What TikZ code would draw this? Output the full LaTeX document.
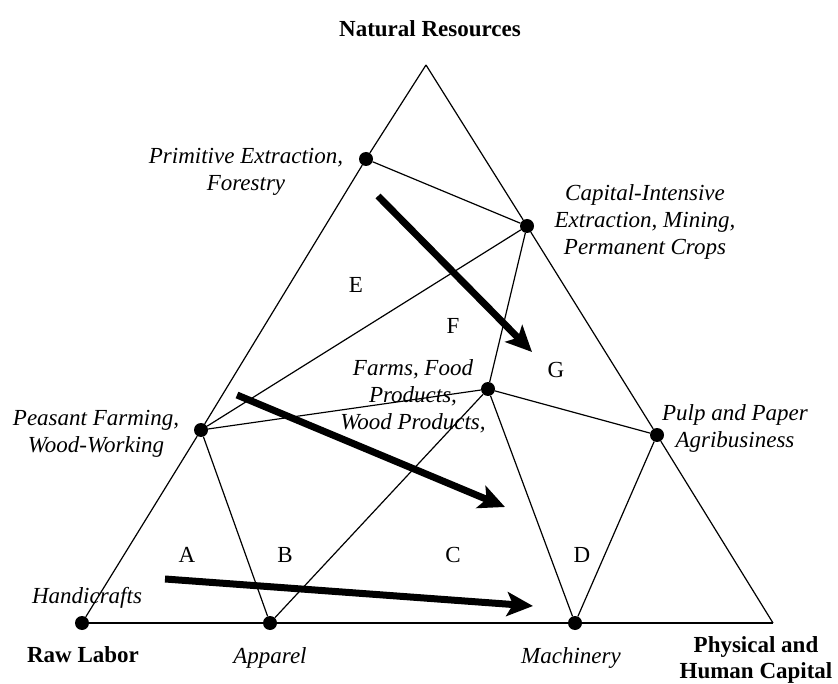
\documentclass[tikz,border=0pt]{standalone}
\usepackage{fontspec}
\setmainfont{Liberation Serif}
\usetikzlibrary{arrows.meta}
\begin{document}
\begin{tikzpicture}[x=1pt,y=-1pt,
  edge/.style={line width=1.2pt},
  base/.style={line width=1.8pt},
  dot/.style={circle,fill=black,inner sep=0pt,minimum size=14pt},
  trend/.style={line width=7pt,-{Stealth[length=26pt,width=24pt,inset=6pt]}},
  lab/.style={font=\fontsize{23}{27}\selectfont\itshape,align=center,inner sep=0pt},
  axis/.style={font=\fontsize{23}{26}\selectfont\bfseries,align=center,inner sep=0pt},
  zone/.style={font=\fontsize{23}{27}\selectfont,inner sep=0pt}]
\useasboundingbox (0,0) rectangle (838,684);

% corners of the factor triangle
\coordinate (top) at (426,65);
\coordinate (right) at (773,623);

% industries
\node[dot] (raw)  at (82,623)  {};
\node[dot] (app)  at (270,623) {};
\node[dot] (mach) at (575,623) {};
\node[dot] (peas) at (201,430) {};
\node[dot] (prim) at (366,159) {};
\node[dot] (cap)  at (527,226) {};
\node[dot] (farm) at (488,389) {};
\node[dot] (pulp) at (657,435) {};

% triangle sides
\draw[edge] (top) -- (prim) -- (peas) -- (raw);
\draw[edge] (top) -- (cap) -- (pulp) -- (right);
\draw[base] (raw) -- (app) -- (mach) -- (right);

% boundaries between zones
\draw[edge] (prim) -- (cap);
\draw[edge] (cap) -- (peas);
\draw[edge] (cap) -- (farm);
\draw[edge] (peas) -- (farm);
\draw[edge] (farm) -- (pulp);
\draw[edge] (peas) -- (app);
\draw[edge] (app) -- (farm);
\draw[edge] (farm) -- (mach);
\draw[edge] (pulp) -- (mach);

% development paths
\coordinate (a1s) at (378,196); \coordinate (a1e) at (532,352);
\coordinate (a2s) at (237,395); \coordinate (a2e) at (505,507);
\coordinate (a3s) at (165,579); \coordinate (a3e) at (533,606);
\draw[trend] (a1s) -- (a1e);
\draw[trend] (a2s) -- (a2e);
\draw[trend] (a3s) -- (a3e);

% corner labels
\node[axis] (nr) at (430,29) {Natural Resources};
\node[axis] (rl) at (83,655) {Raw Labor};
\node[axis] (phc) at (756,660) {Physical and\\Human Capital};

% industry labels
\node[lab] (lprim) at (246,172) {Primitive Extraction,\\Forestry};
\node[lab] (lcap)  at (645,222) {Capital-Intensive\\Extraction, Mining,\\Permanent Crops};
\node[lab] (lfarm) at (413,396) {Farms, Food\\Products,\\Wood Products,};
\node[lab] (lpeas) at (96,434)  {Peasant Farming,\\Wood-Working};
\node[lab] (lpulp) at (735,428) {Pulp and Paper\\Agribusiness};
\node[lab] (lhand) at (87,598)  {Handicrafts};
\node[lab] (lapp)  at (270,658) {Apparel};
\node[lab] (lmach) at (571,658) {Machinery};

% zone letters
\node[zone] (zA) at (187,555) {A};
\node[zone] (zB) at (285,555) {B};
\node[zone] (zC) at (453,555) {C};
\node[zone] (zD) at (582,555) {D};
\node[zone] (zE) at (356,285) {E};
\node[zone] (zF) at (453,326) {F};
\node[zone] (zG) at (556,370) {G};
\end{tikzpicture}
\end{document}
